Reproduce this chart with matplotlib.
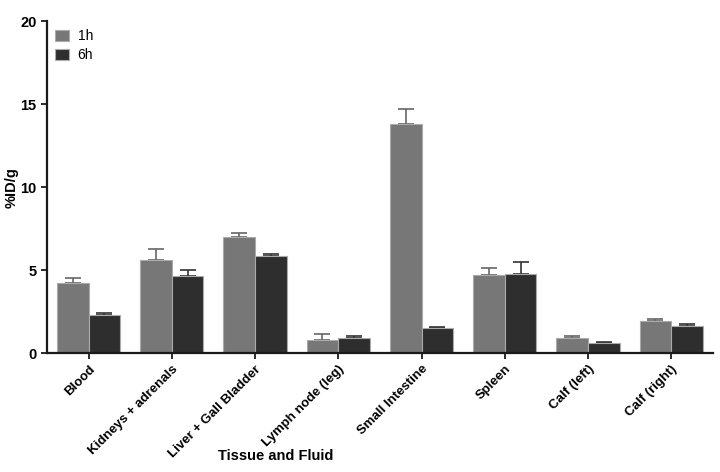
import matplotlib
matplotlib.use("Agg")
import matplotlib.pyplot as plt
import numpy as np

plt.rcParams['font.family'] = ['Liberation Sans', 'DejaVu Sans']

categories = ["Blood", "Kidneys + adrenals", "Liver + Gall Bladder", "Lymph node (leg)",
              "Small Intestine", "Spleen", "Calf (left)", "Calf (right)"]
series_names = ["1h", "6h"]
values_1h = [4.25, 5.62, 7.00, 0.80, 13.80, 4.74, 0.90, 1.93]
err_1h = [0.27, 0.64, 0.23, 0.38, 0.90, 0.38, 0.12, 0.12]
values_6h = [2.31, 4.66, 5.84, 0.94, 1.54, 4.80, 0.62, 1.63]
err_6h = [0.10, 0.34, 0.12, 0.08, 0.06, 0.68, 0.08, 0.12]
yticks = [0, 5, 10, 15, 20]

fig = plt.figure(figsize=(7.2, 4.72), dpi=100)
ax = fig.add_axes([0.0653, 0.2515, 0.9247, 0.704])

x = np.arange(len(categories))
w = 0.38
c1, c2 = "#777777", "#2e2e2e"
ax.bar(x - w/2, values_1h, w, color=c1, edgecolor="#aaaaaa", linewidth=0.8, label=series_names[0], zorder=2)
ax.bar(x + w/2, values_6h, w, color=c2, edgecolor="#aaaaaa", linewidth=0.8, label=series_names[1], zorder=2)
ax.errorbar(x - w/2, values_1h, yerr=[np.zeros(len(x)), err_1h], fmt='none', ecolor="#666666",
            elinewidth=1.2, capsize=5.8, capthick=1.2, zorder=1)
ax.errorbar(x + w/2, values_6h, yerr=[np.zeros(len(x)), err_6h], fmt='none', ecolor="#333333",
            elinewidth=1.2, capsize=5.8, capthick=1.2, zorder=1)

ax.set_xlim(-0.5, len(categories) - 0.5)
ax.set_ylim(0, 20)
ax.set_yticks(yticks)
ax.set_yticklabels([str(t) for t in yticks], fontweight='bold', fontsize=10.5)
ax.set_xticks(x)
ax.set_xticklabels(categories, rotation=45, ha='right', rotation_mode='anchor',
                   fontweight='bold', fontsize=9.5)
for s in ['top', 'right']:
    ax.spines[s].set_visible(False)
for s in ['left', 'bottom']:
    ax.spines[s].set_linewidth(1.6)
    ax.spines[s].set_color("#1a1a1a")
ax.tick_params(axis='both', direction='out', length=4, width=1.3, color="#1a1a1a")
ax.tick_params(axis='x', pad=3)

ax.set_ylabel("%ID/g", fontweight='bold', fontsize=10.5)
ax.yaxis.set_label_coords(-0.042, 0.5)
fig.text(276/720, 1 - 456/472, "Tissue and Fluid", fontweight='bold', fontsize=10.5,
         ha='center', va='center')

leg = ax.legend(loc='upper left', frameon=False, fontsize=10, handlelength=1.0, handleheight=0.9,
                borderaxespad=0.2, bbox_to_anchor=(0.0, 1.0), labelspacing=0.35, handletextpad=0.6)

fig.savefig("out.png", dpi=100)
